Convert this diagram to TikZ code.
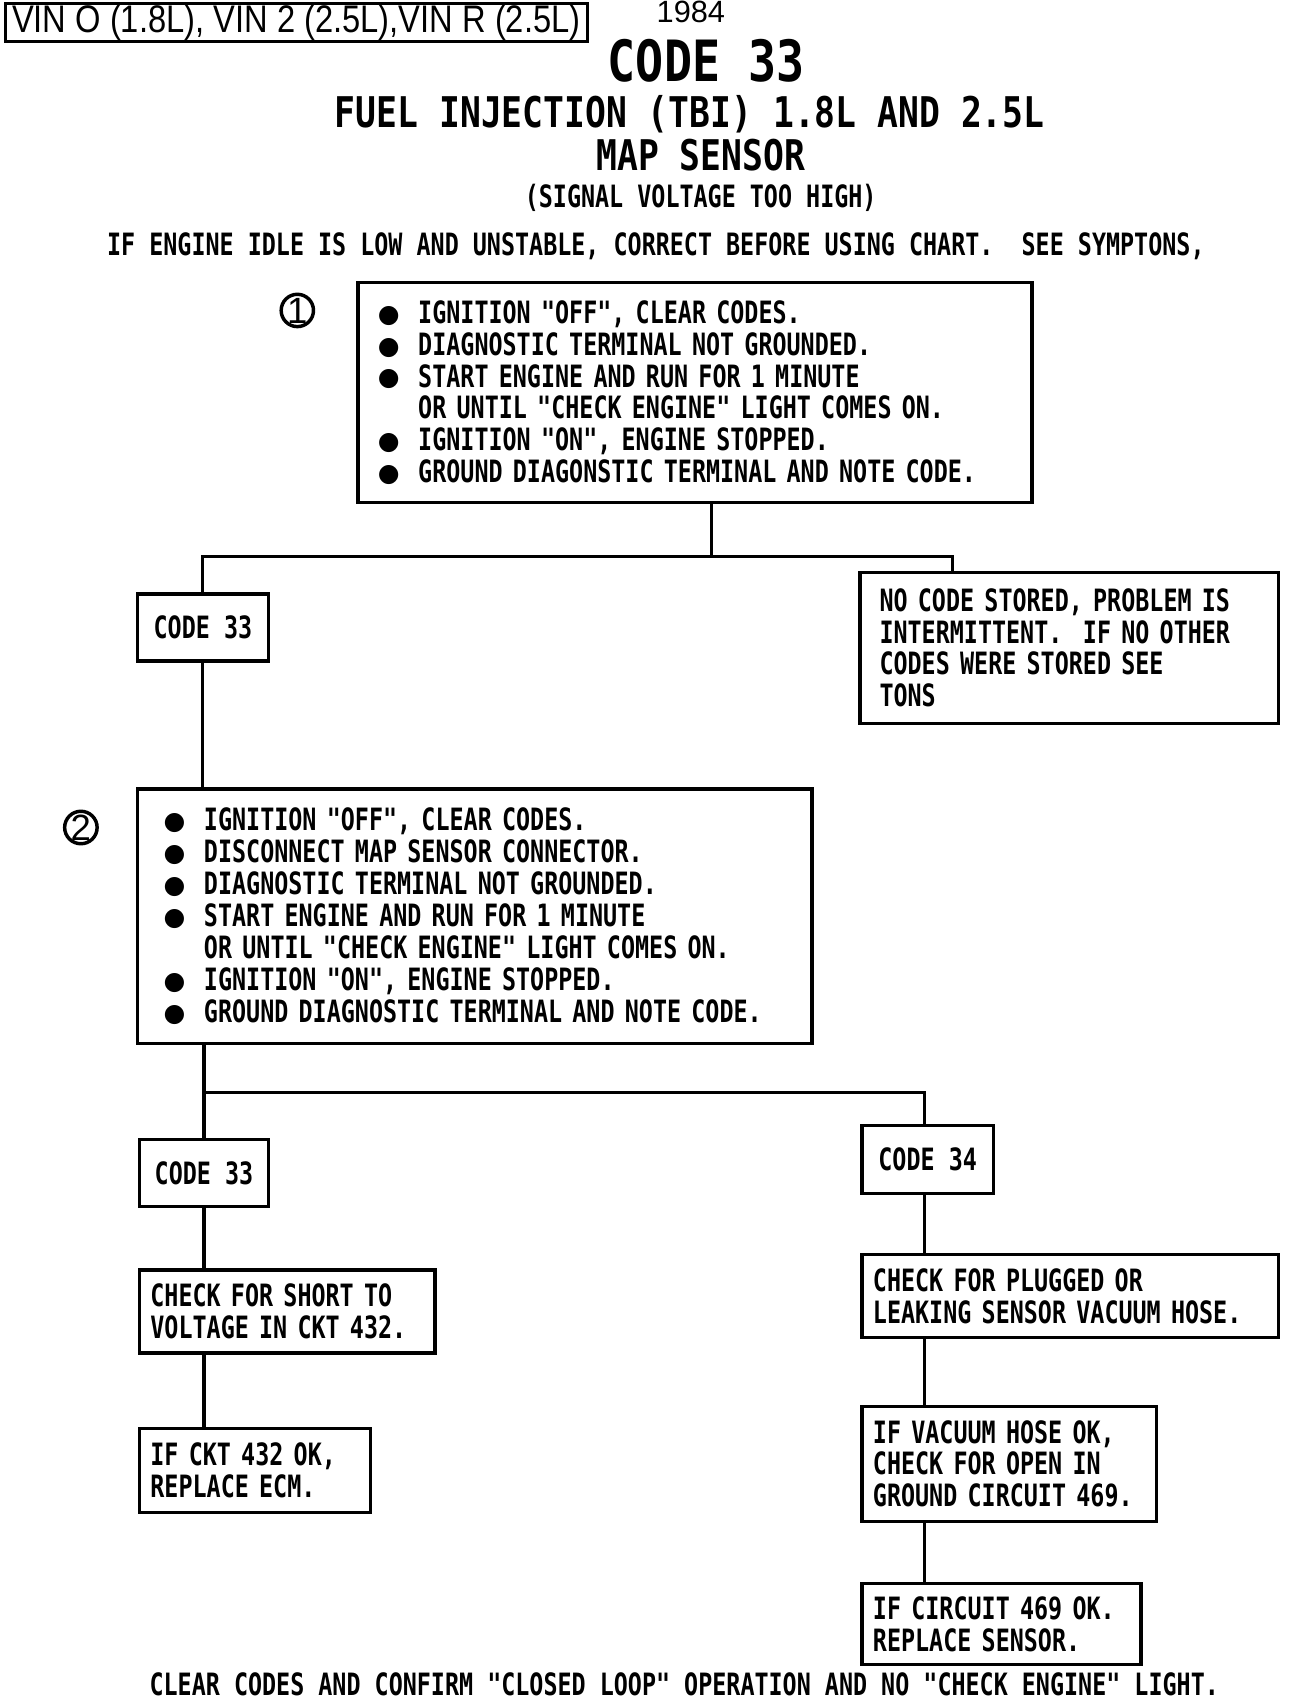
\documentclass[tikz,border=0pt]{standalone}
\usepackage{fontspec}
\setmainfont{Liberation Sans}
\newfontfamily\plotfont{DejaVu Sans Mono}[FakeStretch=0.76]
\newfontfamily\titlefont{DejaVu Sans Mono}[FakeStretch=0.82]
\newfontfamily\vinfont{Liberation Sans}[FakeStretch=0.85]
\newfontfamily\dotfont{DejaVu Sans}
\usetikzlibrary{shapes}
\newcommand{\bul}{\makebox[0.37cm][l]{\dotfont\fontsize{6.5pt}{6.5pt}\selectfont\raisebox{0.3pt}{●}}}
\newcommand{\ind}{\hspace*{0.37cm}}

\begin{document}
\begin{tikzpicture}[x=0.01cm,y=-0.01cm,
    block_bullet/.style ={rectangle, draw=black, line width=0.9pt, fill=white,
      anchor=north west, align=left, inner xsep=0.18cm,
      font=\plotfont\bfseries\fontsize{8pt}{8.3pt}\selectfont},
    block_text/.style ={rectangle, draw=black, line width=0.9pt, fill=white,
      anchor=north west, align=left, inner xsep=0.1cm,
      font=\plotfont\bfseries\fontsize{8pt}{8.3pt}\selectfont},
    block_code/.style ={rectangle, draw=black, line width=0.9pt, fill=white,
      anchor=north west, align=center, inner sep=0pt,
      font=\plotfont\bfseries\fontsize{8pt}{8.3pt}\selectfont},
    block_noborder/.style ={rectangle, draw=none, anchor=base, inner sep=0pt,
      font=\plotfont\bfseries\fontsize{8pt}{8.3pt}\selectfont},
    num_circle/.style ={circle, draw=black, line width=0.9pt, minimum size=0.27cm,
      inner sep=0pt, font=\fontsize{9.5pt}{9.5pt}\selectfont},
    line/.style ={draw, line width=0.8pt}]
    \path[use as bounding box, fill=white] (0,0) rectangle (1200,1557);
    % heading
    \node [rectangle, draw=black, line width=0.7pt, minimum width=5.32cm,
      minimum height=0.35cm, inner sep=0pt,
      font=\vinfont\fontsize{10pt}{12pt}\selectfont] (vin) at (271,20.5)
      {VIN O (1.8L), VIN 2 (2.5L),VIN R (2.5L)};
    \node [font=\fontsize{8pt}{9pt}\selectfont, anchor=base, inner sep=0pt] (year) at (632,21) {1984};
    \node [block_noborder, font=\titlefont\bfseries\fontsize{14.8pt}{16pt}\selectfont] (title) at (646,75) {CODE 33};
    \node [block_noborder, font=\titlefont\bfseries\fontsize{11pt}{12pt}\selectfont] (subtitle) at (631,117) {FUEL INJECTION (TBI) 1.8L AND 2.5L};
    \node [block_noborder, font=\titlefont\bfseries\fontsize{11pt}{12pt}\selectfont] (sensor) at (641,156) {MAP SENSOR};
    \node [block_noborder] (signal) at (641,190) {(SIGNAL VOLTAGE TOO HIGH)};
    \node [block_noborder] (idle) at (600,234) {IF ENGINE IDLE IS LOW AND UNSTABLE, CORRECT BEFORE USING CHART.\ \ SEE SYMPTONS,};
    % step 1
    \node [num_circle] (mark1) at (272,284) {1};
    \node [block_bullet, text width=5.8cm, minimum height=2.01cm] (ign1) at (326,257)
      {\bul IGNITION "OFF", CLEAR CODES.\\
       \bul DIAGNOSTIC TERMINAL NOT GROUNDED.\\
       \bul START ENGINE AND RUN FOR 1 MINUTE\\
       \ind OR UNTIL "CHECK ENGINE" LIGHT COMES ON.\\
       \bul IGNITION "ON", ENGINE STOPPED.\\
       \bul GROUND DIAGONSTIC TERMINAL AND NOTE CODE.};
    \node [block_code, minimum width=1.2cm, minimum height=0.61cm] (code33a) at (124,542) {CODE 33};
    \node [block_bullet, text width=3.47cm, minimum height=1.38cm] (nocode) at (785,522)
      {NO CODE STORED, PROBLEM IS\\
       INTERMITTENT.\ \ IF NO OTHER\\
       CODES WERE STORED SEE\\
       TONS};
    % step 2
    \node [num_circle] (mark2) at (74,757) {2};
    \node [block_bullet, inner xsep=0.24cm, text width=5.69cm, minimum height=2.33cm] (ign2) at (124,720)
      {\bul IGNITION "OFF", CLEAR CODES.\\
       \bul DISCONNECT MAP SENSOR CONNECTOR.\\
       \bul DIAGNOSTIC TERMINAL NOT GROUNDED.\\
       \bul START ENGINE AND RUN FOR 1 MINUTE\\
       \ind OR UNTIL "CHECK ENGINE" LIGHT COMES ON.\\
       \bul IGNITION "ON", ENGINE STOPPED.\\
       \bul GROUND DIAGNOSTIC TERMINAL AND NOTE CODE.};
    \node [block_code, minimum width=1.18cm, minimum height=0.61cm] (code33b) at (126,1041) {CODE 33};
    \node [block_code, minimum width=1.2cm, minimum height=0.62cm] (code34) at (787,1028) {CODE 34};
    \node [block_text, text width=2.5cm, minimum height=0.76cm] (chkshort) at (126,1160)
      {CHECK FOR SHORT TO\\ VOLTAGE IN CKT 432.};
    \node [block_text, text width=1.91cm, minimum height=0.77cm] (ifckt) at (126,1305)
      {IF CKT 432 OK,\\ REPLACE ECM.};
    \node [block_text, text width=3.61cm, minimum height=0.76cm] (chkplug) at (787,1146)
      {CHECK FOR PLUGGED OR\\ LEAKING SENSOR VACUUM HOSE.};
    \node [block_text, text width=2.49cm, minimum height=1.05cm] (ifvac) at (787,1285)
      {IF VACUUM HOSE OK,\\ CHECK FOR OPEN IN\\ GROUND CIRCUIT 469.};
    \node [block_text, text width=2.35cm, minimum height=0.71cm] (ifcirc) at (787,1447)
      {IF CIRCUIT 469 OK.\\ REPLACE SENSOR.};
    \node [block_noborder] (confirm) at (626,1551)
      {CLEAR CODES AND CONFIRM "CLOSED LOOP" OPERATION AND NO "CHECK ENGINE" LIGHT.};
    % junctions
    \coordinate (j1) at (651,509);
    \coordinate (j1r) at (871,509);
    \coordinate (j2) at (846,999);
    % connecting nodes with paths
    \begin{scope}[every path/.style=line]
      \path (ign1.south -| j1) -- (j1);
      \path (code33a.north) |- (j1r) -- (j1r |- nocode.north);
      \path (code33a.south) -- (code33a.south |- ign2.north);
      \path (ign2.south -| code33b) -- (code33b.north);
      \path (code33b.north |- j2) -- (j2) -- (code34.north -| j2);
      \path (code33b.south) -- (code33b.south |- chkshort.north);
      \path (chkshort.south -| code33b) -- (ifckt.north -| code33b);
      \path (code34.south -| j2) -- (chkplug.north -| j2);
      \path (chkplug.south -| j2) -- (ifvac.north -| j2);
      \path (ifvac.south -| j2) -- (ifcirc.north -| j2);
    \end{scope}
\end{tikzpicture}
\end{document}
